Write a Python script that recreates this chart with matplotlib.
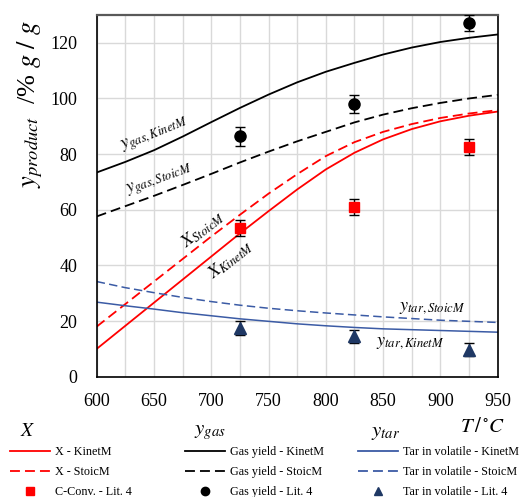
import matplotlib
matplotlib.use("Agg")
import matplotlib.pyplot as plt
from matplotlib.lines import Line2D
from matplotlib.ticker import MultipleLocator

# model curves
T_model = [600, 625, 650, 675, 700, 725, 750, 775, 800, 825, 850, 875, 900, 925, 950]
X_kinet = [10, 18.3, 26.6, 34.9, 43.2, 51.5, 59.5, 67.3, 74.5, 80.5, 85.3, 89.0, 91.8, 93.8, 95.3]
X_stoic = [18, 26.1, 34.2, 42.3, 50.4, 58.2, 65.8, 72.8, 79.3, 84.3, 88.0, 90.8, 93.0, 94.6, 95.8]
gas_kinet = [73.4, 77.2, 81.4, 86.3, 91.5, 96.6, 101.4, 105.8, 109.6, 112.8, 115.8, 118.3, 120.3, 121.8, 123.0]
gas_stoic = [57.6, 61.3, 65.0, 68.9, 72.9, 77.0, 80.9, 84.6, 88.0, 91.4, 94.2, 96.5, 98.4, 100.0, 101.3]
tar_kinet = [26.8, 25.5, 24.3, 23.0, 21.9, 20.8, 19.9, 19.0, 18.3, 17.7, 17.2, 16.9, 16.6, 16.3, 16.0]
tar_stoic = [34.2, 32.0, 30.2, 28.5, 27.0, 25.7, 24.6, 23.7, 22.9, 22.2, 21.5, 20.9, 20.3, 19.9, 19.5]

# literature points (Lit. 4)
T_lit = [725, 825, 925]
conv_lit = [53.4, 60.9, 82.6]
conv_err = [2.8, 2.9, 3.0]
gas_lit = [86.4, 98.0, 127.1]
gas_err = [3.5, 3.3, 3.0]
tar_lit = [17.6, 14.5, 9.7]
tar_err = [2.5, 2.3, 2.4]

RED = "#FF0000"
BLUE = "#3B5BA5"
NAVY = "#1F3864"
DASH = (0, (5.5, 2.8))

plt.rcParams["font.family"] = ["Liberation Serif", "DejaVu Serif"]
plt.rcParams["mathtext.fontset"] = "stix"

fig = plt.figure(figsize=(5.22, 4.97), dpi=100)
ax = fig.add_axes([96.7 / 522, 1 - 376.7 / 497, 401 / 522, 361.7 / 497])

ax.plot(T_model, X_kinet, color=RED, lw=1.3)
ax.plot(T_model, X_stoic, color=RED, lw=1.3, linestyle=DASH)
ax.plot(T_model, gas_kinet, color="black", lw=1.3)
ax.plot(T_model, gas_stoic, color="black", lw=1.3, linestyle=DASH)
ax.plot(T_model, tar_kinet, color=BLUE, lw=1.1)
ax.plot(T_model, tar_stoic, color=BLUE, lw=1.1, linestyle=DASH)

ax.errorbar(T_lit, conv_lit, yerr=conv_err, fmt="s", color=RED, ms=7,
            ecolor="black", elinewidth=1, capsize=3.5, zorder=5)
ax.errorbar(T_lit, gas_lit, yerr=gas_err, fmt="o", color="black", ms=8,
            ecolor="black", elinewidth=1, capsize=3.5, zorder=5)
ax.errorbar(T_lit, tar_lit, yerr=tar_err, fmt="^", color=NAVY, ms=8,
            ecolor="black", elinewidth=1, capsize=3.5, zorder=5)

ax.set_xlim(600, 950)
ax.set_ylim(0, 130)
ax.xaxis.set_major_locator(MultipleLocator(50))
ax.xaxis.set_minor_locator(MultipleLocator(25))
ax.set_yticks([0, 20, 40, 60, 80, 100, 120])
ax.grid(True, which="both", axis="x", color="#D9D9D9", lw=1)
ax.grid(True, which="major", axis="y", color="#D9D9D9", lw=1)
ax.set_axisbelow(True)
ax.tick_params(which="both", length=0, labelsize=13)
ax.tick_params(axis="x", pad=12)
ax.tick_params(axis="y", pad=14)
for s in ax.spines.values():
    s.set_color("black")
    s.set_linewidth(1.2)
ax.spines["top"].set_color("#595959")
ax.spines["top"].set_linewidth(1.6)

# curve labels
ax.text(651, 86.9, r"$y_{gas,KinetM}$", fontsize=13, rotation=22, ha="center", va="center")
ax.text(655, 70.7, r"$y_{gas,StoicM}$", fontsize=13, rotation=20, ha="center", va="center")
ax.text(693, 52.8, r"$X_{StoicM}$", fontsize=13, rotation=38, ha="center", va="center")
ax.text(717, 42.0, r"$X_{KinetM}$", fontsize=13, rotation=38, ha="center", va="center")
ax.text(893, 24.7, r"$y_{tar,StoicM}$", fontsize=13, ha="center", va="center")
ax.text(874, 12.3, r"$y_{tar,KinetM}$", fontsize=13, ha="center", va="center")

fig.text(30 / 522, 1 - 104 / 497, r"$y_{product}$  /% $g\ /\ g$", fontsize=19,
         rotation=90, ha="center", va="center")
fig.text(483 / 522, 1 - 428 / 497, r"$T\,/\,{}^{\circ}C$", fontsize=15,
         ha="center", va="center")

# legend column titles
fig.text(28 / 522, 1 - 431 / 497, r"$X$", fontsize=14, ha="center", va="center")
fig.text(210 / 522, 1 - 432 / 497, r"$y_{gas}$", fontsize=15, ha="center", va="center")
fig.text(386 / 522, 1 - 432 / 497, r"$y_{tar}$", fontsize=15, ha="center", va="center")

cols = [
    (10, RED, RED, "s", ["X - KinetM", "X - StoicM", "C-Conv. - Lit. 4"]),
    (185, "black", "black", "o", ["Gas yield - KinetM", "Gas yield - StoicM", "Gas yield - Lit. 4"]),
    (358, BLUE, NAVY, "^", ["Tar in volatile - KinetM", "Tar in volatile - StoicM", "Tar in volatile - Lit. 4"]),
]
for x0, lc, mc, mk, labels in cols:
    handles = [
        Line2D([], [], color=lc, lw=1.3),
        Line2D([], [], color=lc, lw=1.3, linestyle=DASH),
        Line2D([], [], color=mc, marker=mk, linestyle="none", ms=6),
    ]
    fig.legend(handles, labels, loc="upper left", bbox_to_anchor=(x0 / 522, 1 - 446 / 497),
               frameon=False, fontsize=8.7, handlelength=3.35, handletextpad=0.4,
               borderpad=0, borderaxespad=0, labelspacing=0.68)

fig.savefig("out.png", dpi=100)
